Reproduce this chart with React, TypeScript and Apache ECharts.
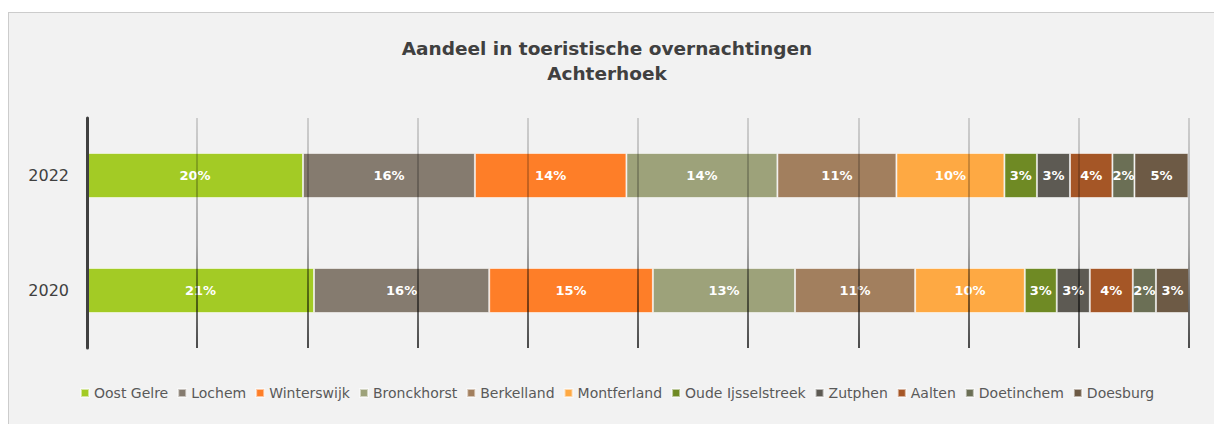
import React, { useEffect, useRef } from "react";
import * as echarts from "echarts";

const years = ["2020", "2022"];
const municipalities = [
  "Oost Gelre",
  "Lochem",
  "Winterswijk",
  "Bronckhorst",
  "Berkelland",
  "Montferland",
  "Oude Ijsselstreek",
  "Zutphen",
  "Aalten",
  "Doetinchem",
  "Doesburg",
];
const share2020 = [20.6, 15.9, 14.85, 12.9, 10.9, 9.95, 2.9, 3.0, 3.9, 2.1, 3.0];
const share2022 = [19.6, 15.6, 13.75, 13.7, 10.8, 9.8, 2.95, 3.0, 3.85, 2.0, 4.9];
const colors = [
  "#a3cb25",
  "#857b6f",
  "#fe7e28",
  "#9da27a",
  "#a27f5e",
  "#fea943",
  "#6f8a24",
  "#5d5a53",
  "#a55626",
  "#6b6f55",
  "#6d5a45",
];
const xTicks = { min: 0, max: 100, interval: 10 };

const FONT = "'DejaVu Sans', 'Noto Sans', sans-serif";

export default function App() {
  const ref = useRef<HTMLDivElement>(null);
  useEffect(() => {
    document.body.style.margin = "0";
    if (!ref.current) return;
    const chart = echarts.init(ref.current, null, { renderer: "svg" });
    const gridGrad = new echarts.graphic.LinearGradient(
      0,
      118,
      0,
      348,
      [
        { offset: 0, color: "rgba(0,0,0,0.2)" },
        { offset: 0.55, color: "rgba(0,0,0,0.4)" },
        { offset: 0.8, color: "rgba(0,0,0,0.7)" },
        { offset: 1, color: "rgba(0,0,0,0.92)" },
      ],
      true
    );
    chart.setOption({
      animation: false,
      backgroundColor: "transparent",
      color: colors,
      title: {
        text: "Aandeel in toeristische overnachtingen\nAchterhoek",
        left: "center",
        top: 31,
        textStyle: {
          fontFamily: FONT,
          fontSize: 18.5,
          fontWeight: "bold",
          color: "#404040",
          lineHeight: 25,
        },
      },
      legend: {
        left: 75,
        top: 381,
        icon: "rect",
        itemWidth: 8,
        itemHeight: 8,
        itemGap: 9,
        textStyle: { fontFamily: FONT, fontSize: 14, color: "#595959" },
        data: municipalities,
      },
      grid: { left: 87, right: 25, top: 118, bottom: 76, containLabel: false },
      xAxis: {
        type: "value",
        min: xTicks.min,
        max: xTicks.max,
        interval: xTicks.interval,
        z: 5,
        axisLine: { show: false },
        axisTick: { show: false },
        axisLabel: { show: false },
        splitLine: { show: true, lineStyle: { color: gridGrad, width: 1.5 } },
      },
      yAxis: {
        type: "category",
        data: years,
        z: 6,
        axisLine: { show: true, lineStyle: { color: "#404040", width: 3 } },
        axisTick: { show: false },
        axisLabel: {
          fontFamily: FONT,
          fontSize: 16,
          color: "#404040",
          margin: 18,
        },
      },
      series: municipalities.map((name, i) => ({
        name,
        type: "bar",
        stack: "total",
        barWidth: 45,
        data: [share2020[i], share2022[i]],
        itemStyle: {
          color: colors[i],
          borderColor: "rgba(255,255,255,0.55)",
          borderWidth: 1,
        },
        label: {
          show: true,
          position: "inside",
          formatter: (p: any) => Math.round(p.value) + "%",
          color: "#ffffff",
          fontFamily: FONT,
          fontSize: 13,
          fontWeight: "bold",
        },
      })),
    });
    return () => chart.dispose();
  }, []);
  return (
    <div style={{ position: "relative", width: 1214, height: 424, overflow: "hidden", background: "#ffffff" }}>
      <div
        style={{
          position: "absolute",
          left: 8,
          top: 12,
          width: 1300,
          height: 500,
          background: "#f2f2f2",
          borderLeft: "1.5px solid #cccccc",
          borderTop: "1.5px solid #cccccc",
        }}
      />
      <div ref={ref} style={{ position: "absolute", left: 0, top: 0, width: 1214, height: 424 }} />
    </div>
  );
}
